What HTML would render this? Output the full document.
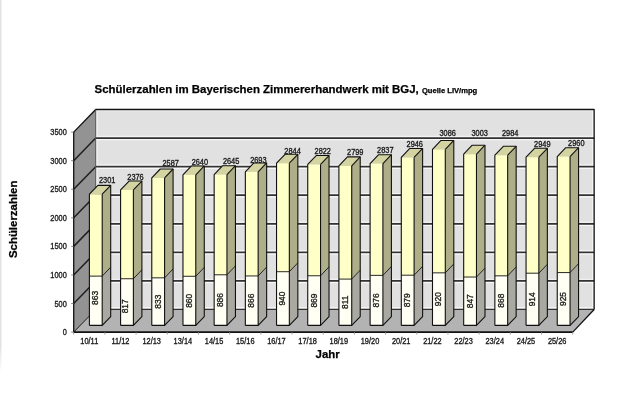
<!DOCTYPE html>
<html><head><meta charset="utf-8"><style>
html,body{margin:0;padding:0;background:#fff;}
body{width:620px;height:415px;overflow:hidden;position:relative;font-family:"Liberation Sans",sans-serif;}
svg{position:absolute;left:0;top:0;will-change:transform;}
.v{font-size:7.4px;fill:#1a1a1a;stroke:#1a1a1a;stroke-width:0.3px;}
.r{font-size:8.4px;fill:#1a1a1a;stroke:#1a1a1a;stroke-width:0.3px;}
.t{font-weight:bold;fill:#000;stroke:#000;stroke-width:0.25px;}
</style></head><body>
<svg width="620" height="415" viewBox="0 0 620 415">
<defs><linearGradient id="lg" x1="0" y1="0" x2="0" y2="1"><stop offset="0.93" stop-color="#e2e2e2"/><stop offset="1" stop-color="#e2e2e2" stop-opacity="0"/></linearGradient></defs>
<rect x="0" y="0" width="1.5" height="372" fill="url(#lg)"/>
<text x="94.6" y="93.2" class="t" font-size="11.45">Schülerzahlen im Bayerischen Zimmererhandwerk mit BGJ, <tspan font-size="7.6">Quelle LIV/mpg</tspan></text>
<text x="17.5" y="258.1" class="t" font-size="11.45" transform="rotate(-90 17.5 258.1)">Schülerzahlen</text>
<text x="327.7" y="357.7" class="t" font-size="11.45" text-anchor="middle">Jahr</text>
<polygon points="95.70,109.51 594.14,109.51 594.14,309.50 95.70,309.50" fill="#e1e1e1"/>
<polyline points="96.90,309.50 96.90,110.61 592.94,110.61 592.94,309.50" fill="none" stroke="#fff" stroke-width="1" stroke-linejoin="round"/>
<polygon points="73.70,132.11 95.70,109.51 95.70,309.50 73.70,332.10" fill="#939393"/>
<polygon points="73.70,332.10 95.70,309.50 594.14,309.50 572.74,332.10" fill="#b3b3b3"/>
<line x1="73.70" y1="303.53" x2="95.70" y2="280.93" stroke="#1e1e1e" stroke-width="1.5"/>
<line x1="95.70" y1="280.93" x2="594.14" y2="280.93" stroke="#333" stroke-width="1.8"/>
<line x1="96.30" y1="282.63" x2="593.54" y2="282.63" stroke="#fff" stroke-width="1.0" opacity="0.85"/>
<line x1="96.30" y1="279.23" x2="593.54" y2="279.23" stroke="#fff" stroke-width="1.0" opacity="0.7"/>
<line x1="73.70" y1="274.96" x2="95.70" y2="252.36" stroke="#1e1e1e" stroke-width="1.5"/>
<line x1="95.70" y1="252.36" x2="594.14" y2="252.36" stroke="#333" stroke-width="1.8"/>
<line x1="96.30" y1="254.06" x2="593.54" y2="254.06" stroke="#fff" stroke-width="1.0" opacity="0.85"/>
<line x1="96.30" y1="250.66" x2="593.54" y2="250.66" stroke="#fff" stroke-width="1.0" opacity="0.7"/>
<line x1="73.70" y1="246.39" x2="95.70" y2="223.79" stroke="#1e1e1e" stroke-width="1.5"/>
<line x1="95.70" y1="223.79" x2="594.14" y2="223.79" stroke="#333" stroke-width="1.8"/>
<line x1="96.30" y1="225.49" x2="593.54" y2="225.49" stroke="#fff" stroke-width="1.0" opacity="0.85"/>
<line x1="96.30" y1="222.09" x2="593.54" y2="222.09" stroke="#fff" stroke-width="1.0" opacity="0.7"/>
<line x1="73.70" y1="217.82" x2="95.70" y2="195.22" stroke="#1e1e1e" stroke-width="1.5"/>
<line x1="95.70" y1="195.22" x2="594.14" y2="195.22" stroke="#333" stroke-width="1.8"/>
<line x1="96.30" y1="196.92" x2="593.54" y2="196.92" stroke="#fff" stroke-width="1.0" opacity="0.85"/>
<line x1="96.30" y1="193.52" x2="593.54" y2="193.52" stroke="#fff" stroke-width="1.0" opacity="0.7"/>
<line x1="73.70" y1="189.25" x2="95.70" y2="166.65" stroke="#1e1e1e" stroke-width="1.5"/>
<line x1="95.70" y1="166.65" x2="594.14" y2="166.65" stroke="#333" stroke-width="1.8"/>
<line x1="96.30" y1="168.35" x2="593.54" y2="168.35" stroke="#fff" stroke-width="1.0" opacity="0.85"/>
<line x1="96.30" y1="164.95" x2="593.54" y2="164.95" stroke="#fff" stroke-width="1.0" opacity="0.7"/>
<line x1="73.70" y1="160.68" x2="95.70" y2="138.08" stroke="#1e1e1e" stroke-width="1.5"/>
<line x1="95.70" y1="138.08" x2="594.14" y2="138.08" stroke="#333" stroke-width="1.8"/>
<line x1="96.30" y1="139.78" x2="593.54" y2="139.78" stroke="#fff" stroke-width="1.0" opacity="0.85"/>
<line x1="96.30" y1="136.38" x2="593.54" y2="136.38" stroke="#fff" stroke-width="1.0" opacity="0.7"/>
<line x1="95.70" y1="309.30" x2="594.14" y2="309.30" stroke="#333" stroke-width="1.2"/>
<line x1="96.30" y1="307.70" x2="593.54" y2="307.70" stroke="#fff" stroke-width="1.0" opacity="0.8"/>
<polyline points="73.70,132.11 95.70,109.51 594.14,109.51 594.14,309.50" fill="none" stroke="#111" stroke-width="1.3" stroke-linejoin="round"/>
<line x1="73.70" y1="132.11" x2="73.70" y2="332.10" stroke="#111" stroke-width="1.3"/>
<line x1="95.70" y1="109.51" x2="95.70" y2="309.50" stroke="#555" stroke-width="1.0"/>
<line x1="73.70" y1="332.10" x2="572.74" y2="332.10" stroke="#111" stroke-width="1.8"/>
<line x1="572.74" y1="332.10" x2="594.14" y2="309.50" stroke="#111" stroke-width="1.3"/>
<line x1="73.70" y1="332.10" x2="95.70" y2="309.50" stroke="#111" stroke-width="1.0"/>
<polygon points="89.40,276.11 102.20,276.11 102.20,325.42 89.40,325.42" fill="#fffff4"/>
<polygon points="89.40,194.24 102.20,194.24 102.20,276.11 89.40,276.11" fill="#ffffc8"/>
<polygon points="102.20,276.11 110.70,267.21 110.70,316.52 102.20,325.42" fill="#a9a9a2"/>
<polygon points="102.20,194.24 110.70,185.34 110.70,267.21 102.20,276.11" fill="#aeae88"/>
<polygon points="89.40,194.24 97.90,185.34 110.70,185.34 102.20,194.24" fill="#d4d4a2"/>
<polyline points="89.40,325.42 89.40,194.24 97.90,185.34 110.70,185.34 110.70,316.52 102.20,325.42 89.40,325.42" fill="none" stroke="#111" stroke-width="1.1" stroke-linejoin="round"/>
<line x1="102.20" y1="194.24" x2="110.70" y2="185.34" stroke="#111" stroke-width="1.1"/>
<line x1="102.20" y1="194.24" x2="102.20" y2="325.42" stroke="#111" stroke-width="1.1"/>
<line x1="89.40" y1="276.11" x2="102.20" y2="276.11" stroke="#111" stroke-width="0.9"/>
<line x1="102.20" y1="276.11" x2="110.70" y2="267.21" stroke="#111" stroke-width="0.9"/>
<polygon points="120.59,278.74 133.39,278.74 133.39,325.42 120.59,325.42" fill="#fffff4"/>
<polygon points="120.59,189.96 133.39,189.96 133.39,278.74 120.59,278.74" fill="#ffffc8"/>
<polygon points="133.39,278.74 141.89,269.84 141.89,316.52 133.39,325.42" fill="#a9a9a2"/>
<polygon points="133.39,189.96 141.89,181.06 141.89,269.84 133.39,278.74" fill="#aeae88"/>
<polygon points="120.59,189.96 129.09,181.06 141.89,181.06 133.39,189.96" fill="#d4d4a2"/>
<polyline points="120.59,325.42 120.59,189.96 129.09,181.06 141.89,181.06 141.89,316.52 133.39,325.42 120.59,325.42" fill="none" stroke="#111" stroke-width="1.1" stroke-linejoin="round"/>
<line x1="133.39" y1="189.96" x2="141.89" y2="181.06" stroke="#111" stroke-width="1.1"/>
<line x1="133.39" y1="189.96" x2="133.39" y2="325.42" stroke="#111" stroke-width="1.1"/>
<line x1="120.59" y1="278.74" x2="133.39" y2="278.74" stroke="#111" stroke-width="0.9"/>
<line x1="133.39" y1="278.74" x2="141.89" y2="269.84" stroke="#111" stroke-width="0.9"/>
<polygon points="151.78,277.83 164.58,277.83 164.58,325.42 151.78,325.42" fill="#fffff4"/>
<polygon points="151.78,177.90 164.58,177.90 164.58,277.83 151.78,277.83" fill="#ffffc8"/>
<polygon points="164.58,277.83 173.08,268.93 173.08,316.52 164.58,325.42" fill="#a9a9a2"/>
<polygon points="164.58,177.90 173.08,169.00 173.08,268.93 164.58,277.83" fill="#aeae88"/>
<polygon points="151.78,177.90 160.28,169.00 173.08,169.00 164.58,177.90" fill="#d4d4a2"/>
<polyline points="151.78,325.42 151.78,177.90 160.28,169.00 173.08,169.00 173.08,316.52 164.58,325.42 151.78,325.42" fill="none" stroke="#111" stroke-width="1.1" stroke-linejoin="round"/>
<line x1="164.58" y1="177.90" x2="173.08" y2="169.00" stroke="#111" stroke-width="1.1"/>
<line x1="164.58" y1="177.90" x2="164.58" y2="325.42" stroke="#111" stroke-width="1.1"/>
<line x1="151.78" y1="277.83" x2="164.58" y2="277.83" stroke="#111" stroke-width="0.9"/>
<line x1="164.58" y1="277.83" x2="173.08" y2="268.93" stroke="#111" stroke-width="0.9"/>
<polygon points="182.97,276.28 195.77,276.28 195.77,325.42 182.97,325.42" fill="#fffff4"/>
<polygon points="182.97,174.87 195.77,174.87 195.77,276.28 182.97,276.28" fill="#ffffc8"/>
<polygon points="195.77,276.28 204.27,267.38 204.27,316.52 195.77,325.42" fill="#a9a9a2"/>
<polygon points="195.77,174.87 204.27,165.97 204.27,267.38 195.77,276.28" fill="#aeae88"/>
<polygon points="182.97,174.87 191.47,165.97 204.27,165.97 195.77,174.87" fill="#d4d4a2"/>
<polyline points="182.97,325.42 182.97,174.87 191.47,165.97 204.27,165.97 204.27,316.52 195.77,325.42 182.97,325.42" fill="none" stroke="#111" stroke-width="1.1" stroke-linejoin="round"/>
<line x1="195.77" y1="174.87" x2="204.27" y2="165.97" stroke="#111" stroke-width="1.1"/>
<line x1="195.77" y1="174.87" x2="195.77" y2="325.42" stroke="#111" stroke-width="1.1"/>
<line x1="182.97" y1="276.28" x2="195.77" y2="276.28" stroke="#111" stroke-width="0.9"/>
<line x1="195.77" y1="276.28" x2="204.27" y2="267.38" stroke="#111" stroke-width="0.9"/>
<polygon points="214.16,274.80 226.96,274.80 226.96,325.42 214.16,325.42" fill="#fffff4"/>
<polygon points="214.16,174.59 226.96,174.59 226.96,274.80 214.16,274.80" fill="#ffffc8"/>
<polygon points="226.96,274.80 235.46,265.90 235.46,316.52 226.96,325.42" fill="#a9a9a2"/>
<polygon points="226.96,174.59 235.46,165.69 235.46,265.90 226.96,274.80" fill="#aeae88"/>
<polygon points="214.16,174.59 222.66,165.69 235.46,165.69 226.96,174.59" fill="#d4d4a2"/>
<polyline points="214.16,325.42 214.16,174.59 222.66,165.69 235.46,165.69 235.46,316.52 226.96,325.42 214.16,325.42" fill="none" stroke="#111" stroke-width="1.1" stroke-linejoin="round"/>
<line x1="226.96" y1="174.59" x2="235.46" y2="165.69" stroke="#111" stroke-width="1.1"/>
<line x1="226.96" y1="174.59" x2="226.96" y2="325.42" stroke="#111" stroke-width="1.1"/>
<line x1="214.16" y1="274.80" x2="226.96" y2="274.80" stroke="#111" stroke-width="0.9"/>
<line x1="226.96" y1="274.80" x2="235.46" y2="265.90" stroke="#111" stroke-width="0.9"/>
<polygon points="245.35,275.94 258.15,275.94 258.15,325.42 245.35,325.42" fill="#fffff4"/>
<polygon points="245.35,171.84 258.15,171.84 258.15,275.94 245.35,275.94" fill="#ffffc8"/>
<polygon points="258.15,275.94 266.65,267.04 266.65,316.52 258.15,325.42" fill="#a9a9a2"/>
<polygon points="258.15,171.84 266.65,162.94 266.65,267.04 258.15,275.94" fill="#aeae88"/>
<polygon points="245.35,171.84 253.85,162.94 266.65,162.94 258.15,171.84" fill="#d4d4a2"/>
<polyline points="245.35,325.42 245.35,171.84 253.85,162.94 266.65,162.94 266.65,316.52 258.15,325.42 245.35,325.42" fill="none" stroke="#111" stroke-width="1.1" stroke-linejoin="round"/>
<line x1="258.15" y1="171.84" x2="266.65" y2="162.94" stroke="#111" stroke-width="1.1"/>
<line x1="258.15" y1="171.84" x2="258.15" y2="325.42" stroke="#111" stroke-width="1.1"/>
<line x1="245.35" y1="275.94" x2="258.15" y2="275.94" stroke="#111" stroke-width="0.9"/>
<line x1="258.15" y1="275.94" x2="266.65" y2="267.04" stroke="#111" stroke-width="0.9"/>
<polygon points="276.54,271.71 289.34,271.71 289.34,325.42 276.54,325.42" fill="#fffff4"/>
<polygon points="276.54,163.22 289.34,163.22 289.34,271.71 276.54,271.71" fill="#ffffc8"/>
<polygon points="289.34,271.71 297.84,262.81 297.84,316.52 289.34,325.42" fill="#a9a9a2"/>
<polygon points="289.34,163.22 297.84,154.32 297.84,262.81 289.34,271.71" fill="#aeae88"/>
<polygon points="276.54,163.22 285.04,154.32 297.84,154.32 289.34,163.22" fill="#d4d4a2"/>
<polyline points="276.54,325.42 276.54,163.22 285.04,154.32 297.84,154.32 297.84,316.52 289.34,325.42 276.54,325.42" fill="none" stroke="#111" stroke-width="1.1" stroke-linejoin="round"/>
<line x1="289.34" y1="163.22" x2="297.84" y2="154.32" stroke="#111" stroke-width="1.1"/>
<line x1="289.34" y1="163.22" x2="289.34" y2="325.42" stroke="#111" stroke-width="1.1"/>
<line x1="276.54" y1="271.71" x2="289.34" y2="271.71" stroke="#111" stroke-width="0.9"/>
<line x1="289.34" y1="271.71" x2="297.84" y2="262.81" stroke="#111" stroke-width="0.9"/>
<polygon points="307.73,275.77 320.53,275.77 320.53,325.42 307.73,325.42" fill="#fffff4"/>
<polygon points="307.73,164.47 320.53,164.47 320.53,275.77 307.73,275.77" fill="#ffffc8"/>
<polygon points="320.53,275.77 329.03,266.87 329.03,316.52 320.53,325.42" fill="#a9a9a2"/>
<polygon points="320.53,164.47 329.03,155.57 329.03,266.87 320.53,275.77" fill="#aeae88"/>
<polygon points="307.73,164.47 316.23,155.57 329.03,155.57 320.53,164.47" fill="#d4d4a2"/>
<polyline points="307.73,325.42 307.73,164.47 316.23,155.57 329.03,155.57 329.03,316.52 320.53,325.42 307.73,325.42" fill="none" stroke="#111" stroke-width="1.1" stroke-linejoin="round"/>
<line x1="320.53" y1="164.47" x2="329.03" y2="155.57" stroke="#111" stroke-width="1.1"/>
<line x1="320.53" y1="164.47" x2="320.53" y2="325.42" stroke="#111" stroke-width="1.1"/>
<line x1="307.73" y1="275.77" x2="320.53" y2="275.77" stroke="#111" stroke-width="0.9"/>
<line x1="320.53" y1="275.77" x2="329.03" y2="266.87" stroke="#111" stroke-width="0.9"/>
<polygon points="338.92,279.08 351.72,279.08 351.72,325.42 338.92,325.42" fill="#fffff4"/>
<polygon points="338.92,165.79 351.72,165.79 351.72,279.08 338.92,279.08" fill="#ffffc8"/>
<polygon points="351.72,279.08 360.22,270.18 360.22,316.52 351.72,325.42" fill="#a9a9a2"/>
<polygon points="351.72,165.79 360.22,156.89 360.22,270.18 351.72,279.08" fill="#aeae88"/>
<polygon points="338.92,165.79 347.42,156.89 360.22,156.89 351.72,165.79" fill="#d4d4a2"/>
<polyline points="338.92,325.42 338.92,165.79 347.42,156.89 360.22,156.89 360.22,316.52 351.72,325.42 338.92,325.42" fill="none" stroke="#111" stroke-width="1.1" stroke-linejoin="round"/>
<line x1="351.72" y1="165.79" x2="360.22" y2="156.89" stroke="#111" stroke-width="1.1"/>
<line x1="351.72" y1="165.79" x2="351.72" y2="325.42" stroke="#111" stroke-width="1.1"/>
<line x1="338.92" y1="279.08" x2="351.72" y2="279.08" stroke="#111" stroke-width="0.9"/>
<line x1="351.72" y1="279.08" x2="360.22" y2="270.18" stroke="#111" stroke-width="0.9"/>
<polygon points="370.11,275.37 382.91,275.37 382.91,325.42 370.11,325.42" fill="#fffff4"/>
<polygon points="370.11,163.62 382.91,163.62 382.91,275.37 370.11,275.37" fill="#ffffc8"/>
<polygon points="382.91,275.37 391.41,266.47 391.41,316.52 382.91,325.42" fill="#a9a9a2"/>
<polygon points="382.91,163.62 391.41,154.72 391.41,266.47 382.91,275.37" fill="#aeae88"/>
<polygon points="370.11,163.62 378.61,154.72 391.41,154.72 382.91,163.62" fill="#d4d4a2"/>
<polyline points="370.11,325.42 370.11,163.62 378.61,154.72 391.41,154.72 391.41,316.52 382.91,325.42 370.11,325.42" fill="none" stroke="#111" stroke-width="1.1" stroke-linejoin="round"/>
<line x1="382.91" y1="163.62" x2="391.41" y2="154.72" stroke="#111" stroke-width="1.1"/>
<line x1="382.91" y1="163.62" x2="382.91" y2="325.42" stroke="#111" stroke-width="1.1"/>
<line x1="370.11" y1="275.37" x2="382.91" y2="275.37" stroke="#111" stroke-width="0.9"/>
<line x1="382.91" y1="275.37" x2="391.41" y2="266.47" stroke="#111" stroke-width="0.9"/>
<polygon points="401.30,275.20 414.10,275.20 414.10,325.42 401.30,325.42" fill="#fffff4"/>
<polygon points="401.30,157.39 414.10,157.39 414.10,275.20 401.30,275.20" fill="#ffffc8"/>
<polygon points="414.10,275.20 422.60,266.30 422.60,316.52 414.10,325.42" fill="#a9a9a2"/>
<polygon points="414.10,157.39 422.60,148.49 422.60,266.30 414.10,275.20" fill="#aeae88"/>
<polygon points="401.30,157.39 409.80,148.49 422.60,148.49 414.10,157.39" fill="#d4d4a2"/>
<polyline points="401.30,325.42 401.30,157.39 409.80,148.49 422.60,148.49 422.60,316.52 414.10,325.42 401.30,325.42" fill="none" stroke="#111" stroke-width="1.1" stroke-linejoin="round"/>
<line x1="414.10" y1="157.39" x2="422.60" y2="148.49" stroke="#111" stroke-width="1.1"/>
<line x1="414.10" y1="157.39" x2="414.10" y2="325.42" stroke="#111" stroke-width="1.1"/>
<line x1="401.30" y1="275.20" x2="414.10" y2="275.20" stroke="#111" stroke-width="0.9"/>
<line x1="414.10" y1="275.20" x2="422.60" y2="266.30" stroke="#111" stroke-width="0.9"/>
<polygon points="432.49,272.85 445.29,272.85 445.29,325.42 432.49,325.42" fill="#fffff4"/>
<polygon points="432.49,149.39 445.29,149.39 445.29,272.85 432.49,272.85" fill="#ffffc8"/>
<polygon points="445.29,272.85 453.79,263.95 453.79,316.52 445.29,325.42" fill="#a9a9a2"/>
<polygon points="445.29,149.39 453.79,140.49 453.79,263.95 445.29,272.85" fill="#aeae88"/>
<polygon points="432.49,149.39 440.99,140.49 453.79,140.49 445.29,149.39" fill="#d4d4a2"/>
<polyline points="432.49,325.42 432.49,149.39 440.99,140.49 453.79,140.49 453.79,316.52 445.29,325.42 432.49,325.42" fill="none" stroke="#111" stroke-width="1.1" stroke-linejoin="round"/>
<line x1="445.29" y1="149.39" x2="453.79" y2="140.49" stroke="#111" stroke-width="1.1"/>
<line x1="445.29" y1="149.39" x2="445.29" y2="325.42" stroke="#111" stroke-width="1.1"/>
<line x1="432.49" y1="272.85" x2="445.29" y2="272.85" stroke="#111" stroke-width="0.9"/>
<line x1="445.29" y1="272.85" x2="453.79" y2="263.95" stroke="#111" stroke-width="0.9"/>
<polygon points="463.68,277.03 476.48,277.03 476.48,325.42 463.68,325.42" fill="#fffff4"/>
<polygon points="463.68,154.13 476.48,154.13 476.48,277.03 463.68,277.03" fill="#ffffc8"/>
<polygon points="476.48,277.03 484.98,268.13 484.98,316.52 476.48,325.42" fill="#a9a9a2"/>
<polygon points="476.48,154.13 484.98,145.23 484.98,268.13 476.48,277.03" fill="#aeae88"/>
<polygon points="463.68,154.13 472.18,145.23 484.98,145.23 476.48,154.13" fill="#d4d4a2"/>
<polyline points="463.68,325.42 463.68,154.13 472.18,145.23 484.98,145.23 484.98,316.52 476.48,325.42 463.68,325.42" fill="none" stroke="#111" stroke-width="1.1" stroke-linejoin="round"/>
<line x1="476.48" y1="154.13" x2="484.98" y2="145.23" stroke="#111" stroke-width="1.1"/>
<line x1="476.48" y1="154.13" x2="476.48" y2="325.42" stroke="#111" stroke-width="1.1"/>
<line x1="463.68" y1="277.03" x2="476.48" y2="277.03" stroke="#111" stroke-width="0.9"/>
<line x1="476.48" y1="277.03" x2="484.98" y2="268.13" stroke="#111" stroke-width="0.9"/>
<polygon points="494.87,275.83 507.67,275.83 507.67,325.42 494.87,325.42" fill="#fffff4"/>
<polygon points="494.87,155.22 507.67,155.22 507.67,275.83 494.87,275.83" fill="#ffffc8"/>
<polygon points="507.67,275.83 516.16,266.93 516.16,316.52 507.67,325.42" fill="#a9a9a2"/>
<polygon points="507.67,155.22 516.16,146.32 516.16,266.93 507.67,275.83" fill="#aeae88"/>
<polygon points="494.87,155.22 503.37,146.32 516.16,146.32 507.67,155.22" fill="#d4d4a2"/>
<polyline points="494.87,325.42 494.87,155.22 503.37,146.32 516.16,146.32 516.16,316.52 507.67,325.42 494.87,325.42" fill="none" stroke="#111" stroke-width="1.1" stroke-linejoin="round"/>
<line x1="507.67" y1="155.22" x2="516.16" y2="146.32" stroke="#111" stroke-width="1.1"/>
<line x1="507.67" y1="155.22" x2="507.67" y2="325.42" stroke="#111" stroke-width="1.1"/>
<line x1="494.87" y1="275.83" x2="507.67" y2="275.83" stroke="#111" stroke-width="0.9"/>
<line x1="507.67" y1="275.83" x2="516.16" y2="266.93" stroke="#111" stroke-width="0.9"/>
<polygon points="526.06,273.20 538.86,273.20 538.86,325.42 526.06,325.42" fill="#fffff4"/>
<polygon points="526.06,157.22 538.86,157.22 538.86,273.20 526.06,273.20" fill="#ffffc8"/>
<polygon points="538.86,273.20 547.36,264.30 547.36,316.52 538.86,325.42" fill="#a9a9a2"/>
<polygon points="538.86,157.22 547.36,148.32 547.36,264.30 538.86,273.20" fill="#aeae88"/>
<polygon points="526.06,157.22 534.56,148.32 547.36,148.32 538.86,157.22" fill="#d4d4a2"/>
<polyline points="526.06,325.42 526.06,157.22 534.56,148.32 547.36,148.32 547.36,316.52 538.86,325.42 526.06,325.42" fill="none" stroke="#111" stroke-width="1.1" stroke-linejoin="round"/>
<line x1="538.86" y1="157.22" x2="547.36" y2="148.32" stroke="#111" stroke-width="1.1"/>
<line x1="538.86" y1="157.22" x2="538.86" y2="325.42" stroke="#111" stroke-width="1.1"/>
<line x1="526.06" y1="273.20" x2="538.86" y2="273.20" stroke="#111" stroke-width="0.9"/>
<line x1="538.86" y1="273.20" x2="547.36" y2="264.30" stroke="#111" stroke-width="0.9"/>
<polygon points="557.25,272.57 570.05,272.57 570.05,325.42 557.25,325.42" fill="#fffff4"/>
<polygon points="557.25,156.59 570.05,156.59 570.05,272.57 557.25,272.57" fill="#ffffc8"/>
<polygon points="570.05,272.57 578.55,263.67 578.55,316.52 570.05,325.42" fill="#a9a9a2"/>
<polygon points="570.05,156.59 578.55,147.69 578.55,263.67 570.05,272.57" fill="#aeae88"/>
<polygon points="557.25,156.59 565.75,147.69 578.55,147.69 570.05,156.59" fill="#d4d4a2"/>
<polyline points="557.25,325.42 557.25,156.59 565.75,147.69 578.55,147.69 578.55,316.52 570.05,325.42 557.25,325.42" fill="none" stroke="#111" stroke-width="1.1" stroke-linejoin="round"/>
<line x1="570.05" y1="156.59" x2="578.55" y2="147.69" stroke="#111" stroke-width="1.1"/>
<line x1="570.05" y1="156.59" x2="570.05" y2="325.42" stroke="#111" stroke-width="1.1"/>
<line x1="557.25" y1="272.57" x2="570.05" y2="272.57" stroke="#111" stroke-width="0.9"/>
<line x1="570.05" y1="272.57" x2="578.55" y2="263.67" stroke="#111" stroke-width="0.9"/>
<text transform="translate(107.15 183.00) scale(1 1.1)" text-anchor="middle" class="v">2301</text>
<text transform="translate(98.30 297.90) rotate(-90) scale(1 1.12)" text-anchor="middle" class="r">863</text>
<text transform="translate(135.50 180.00) scale(1 1.1)" text-anchor="middle" class="v">2376</text>
<text transform="translate(128.29 306.30) rotate(-90) scale(1 1.12)" text-anchor="middle" class="r">817</text>
<text transform="translate(170.65 165.80) scale(1 1.1)" text-anchor="middle" class="v">2587</text>
<text transform="translate(160.68 301.62) rotate(-90) scale(1 1.12)" text-anchor="middle" class="r">833</text>
<text transform="translate(199.85 165.40) scale(1 1.1)" text-anchor="middle" class="v">2640</text>
<text transform="translate(191.87 300.85) rotate(-90) scale(1 1.12)" text-anchor="middle" class="r">860</text>
<text transform="translate(231.10 163.90) scale(1 1.1)" text-anchor="middle" class="v">2645</text>
<text transform="translate(223.06 300.11) rotate(-90) scale(1 1.12)" text-anchor="middle" class="r">886</text>
<text transform="translate(258.35 162.60) scale(1 1.1)" text-anchor="middle" class="v">2693</text>
<text transform="translate(254.25 300.68) rotate(-90) scale(1 1.12)" text-anchor="middle" class="r">866</text>
<text transform="translate(292.55 153.50) scale(1 1.1)" text-anchor="middle" class="v">2844</text>
<text transform="translate(285.44 298.57) rotate(-90) scale(1 1.12)" text-anchor="middle" class="r">940</text>
<text transform="translate(322.75 154.20) scale(1 1.1)" text-anchor="middle" class="v">2822</text>
<text transform="translate(316.62 300.60) rotate(-90) scale(1 1.12)" text-anchor="middle" class="r">869</text>
<text transform="translate(355.25 154.80) scale(1 1.1)" text-anchor="middle" class="v">2799</text>
<text transform="translate(347.82 302.25) rotate(-90) scale(1 1.12)" text-anchor="middle" class="r">811</text>
<text transform="translate(385.30 152.90) scale(1 1.1)" text-anchor="middle" class="v">2837</text>
<text transform="translate(379.00 300.40) rotate(-90) scale(1 1.12)" text-anchor="middle" class="r">876</text>
<text transform="translate(414.75 147.10) scale(1 1.1)" text-anchor="middle" class="v">2946</text>
<text transform="translate(410.20 300.31) rotate(-90) scale(1 1.12)" text-anchor="middle" class="r">879</text>
<text transform="translate(447.65 136.10) scale(1 1.1)" text-anchor="middle" class="v">3086</text>
<text transform="translate(441.38 299.14) rotate(-90) scale(1 1.12)" text-anchor="middle" class="r">920</text>
<text transform="translate(479.70 136.10) scale(1 1.1)" text-anchor="middle" class="v">3003</text>
<text transform="translate(472.58 301.22) rotate(-90) scale(1 1.12)" text-anchor="middle" class="r">847</text>
<text transform="translate(510.20 136.10) scale(1 1.1)" text-anchor="middle" class="v">2984</text>
<text transform="translate(503.76 300.62) rotate(-90) scale(1 1.12)" text-anchor="middle" class="r">868</text>
<text transform="translate(542.30 146.80) scale(1 1.1)" text-anchor="middle" class="v">2949</text>
<text transform="translate(534.96 299.31) rotate(-90) scale(1 1.12)" text-anchor="middle" class="r">914</text>
<text transform="translate(576.30 146.10) scale(1 1.1)" text-anchor="middle" class="v">2960</text>
<text transform="translate(566.15 299.00) rotate(-90) scale(1 1.12)" text-anchor="middle" class="r">925</text>
<line x1="71.20" y1="332.10" x2="73.70" y2="332.10" stroke="#666" stroke-width="0.8"/>
<text transform="translate(66.8 335.10) scale(1 1.1)" text-anchor="end" class="v">0</text>
<line x1="71.20" y1="303.53" x2="73.70" y2="303.53" stroke="#666" stroke-width="0.8"/>
<text transform="translate(66.8 306.53) scale(1 1.1)" text-anchor="end" class="v">500</text>
<line x1="71.20" y1="274.96" x2="73.70" y2="274.96" stroke="#666" stroke-width="0.8"/>
<text transform="translate(66.8 277.96) scale(1 1.1)" text-anchor="end" class="v">1000</text>
<line x1="71.20" y1="246.39" x2="73.70" y2="246.39" stroke="#666" stroke-width="0.8"/>
<text transform="translate(66.8 249.39) scale(1 1.1)" text-anchor="end" class="v">1500</text>
<line x1="71.20" y1="217.82" x2="73.70" y2="217.82" stroke="#666" stroke-width="0.8"/>
<text transform="translate(66.8 220.82) scale(1 1.1)" text-anchor="end" class="v">2000</text>
<line x1="71.20" y1="189.25" x2="73.70" y2="189.25" stroke="#666" stroke-width="0.8"/>
<text transform="translate(66.8 192.25) scale(1 1.1)" text-anchor="end" class="v">2500</text>
<line x1="71.20" y1="160.68" x2="73.70" y2="160.68" stroke="#666" stroke-width="0.8"/>
<text transform="translate(66.8 163.68) scale(1 1.1)" text-anchor="end" class="v">3000</text>
<line x1="71.20" y1="132.11" x2="73.70" y2="132.11" stroke="#666" stroke-width="0.8"/>
<text transform="translate(66.8 135.11) scale(1 1.1)" text-anchor="end" class="v">3500</text>
<line x1="73.70" y1="332.10" x2="73.70" y2="334.60" stroke="#888" stroke-width="0.8"/>
<line x1="104.89" y1="332.10" x2="104.89" y2="334.60" stroke="#888" stroke-width="0.8"/>
<line x1="136.08" y1="332.10" x2="136.08" y2="334.60" stroke="#888" stroke-width="0.8"/>
<line x1="167.27" y1="332.10" x2="167.27" y2="334.60" stroke="#888" stroke-width="0.8"/>
<line x1="198.46" y1="332.10" x2="198.46" y2="334.60" stroke="#888" stroke-width="0.8"/>
<line x1="229.65" y1="332.10" x2="229.65" y2="334.60" stroke="#888" stroke-width="0.8"/>
<line x1="260.84" y1="332.10" x2="260.84" y2="334.60" stroke="#888" stroke-width="0.8"/>
<line x1="292.03" y1="332.10" x2="292.03" y2="334.60" stroke="#888" stroke-width="0.8"/>
<line x1="323.22" y1="332.10" x2="323.22" y2="334.60" stroke="#888" stroke-width="0.8"/>
<line x1="354.41" y1="332.10" x2="354.41" y2="334.60" stroke="#888" stroke-width="0.8"/>
<line x1="385.60" y1="332.10" x2="385.60" y2="334.60" stroke="#888" stroke-width="0.8"/>
<line x1="416.79" y1="332.10" x2="416.79" y2="334.60" stroke="#888" stroke-width="0.8"/>
<line x1="447.98" y1="332.10" x2="447.98" y2="334.60" stroke="#888" stroke-width="0.8"/>
<line x1="479.17" y1="332.10" x2="479.17" y2="334.60" stroke="#888" stroke-width="0.8"/>
<line x1="510.36" y1="332.10" x2="510.36" y2="334.60" stroke="#888" stroke-width="0.8"/>
<line x1="541.55" y1="332.10" x2="541.55" y2="334.60" stroke="#888" stroke-width="0.8"/>
<line x1="572.74" y1="332.10" x2="572.74" y2="334.60" stroke="#888" stroke-width="0.8"/>
<text transform="translate(89.30 344.2) scale(1 1.1)" text-anchor="middle" class="v">10/11</text>
<text transform="translate(120.49 344.2) scale(1 1.1)" text-anchor="middle" class="v">11/12</text>
<text transform="translate(151.68 344.2) scale(1 1.1)" text-anchor="middle" class="v">12/13</text>
<text transform="translate(182.87 344.2) scale(1 1.1)" text-anchor="middle" class="v">13/14</text>
<text transform="translate(214.06 344.2) scale(1 1.1)" text-anchor="middle" class="v">14/15</text>
<text transform="translate(245.25 344.2) scale(1 1.1)" text-anchor="middle" class="v">15/16</text>
<text transform="translate(276.44 344.2) scale(1 1.1)" text-anchor="middle" class="v">16/17</text>
<text transform="translate(307.62 344.2) scale(1 1.1)" text-anchor="middle" class="v">17/18</text>
<text transform="translate(338.81 344.2) scale(1 1.1)" text-anchor="middle" class="v">18/19</text>
<text transform="translate(370.00 344.2) scale(1 1.1)" text-anchor="middle" class="v">19/20</text>
<text transform="translate(401.19 344.2) scale(1 1.1)" text-anchor="middle" class="v">20/21</text>
<text transform="translate(432.38 344.2) scale(1 1.1)" text-anchor="middle" class="v">21/22</text>
<text transform="translate(463.57 344.2) scale(1 1.1)" text-anchor="middle" class="v">22/23</text>
<text transform="translate(494.76 344.2) scale(1 1.1)" text-anchor="middle" class="v">23/24</text>
<text transform="translate(525.96 344.2) scale(1 1.1)" text-anchor="middle" class="v">24/25</text>
<text transform="translate(557.14 344.2) scale(1 1.1)" text-anchor="middle" class="v">25/26</text>
</svg>
</body></html>
